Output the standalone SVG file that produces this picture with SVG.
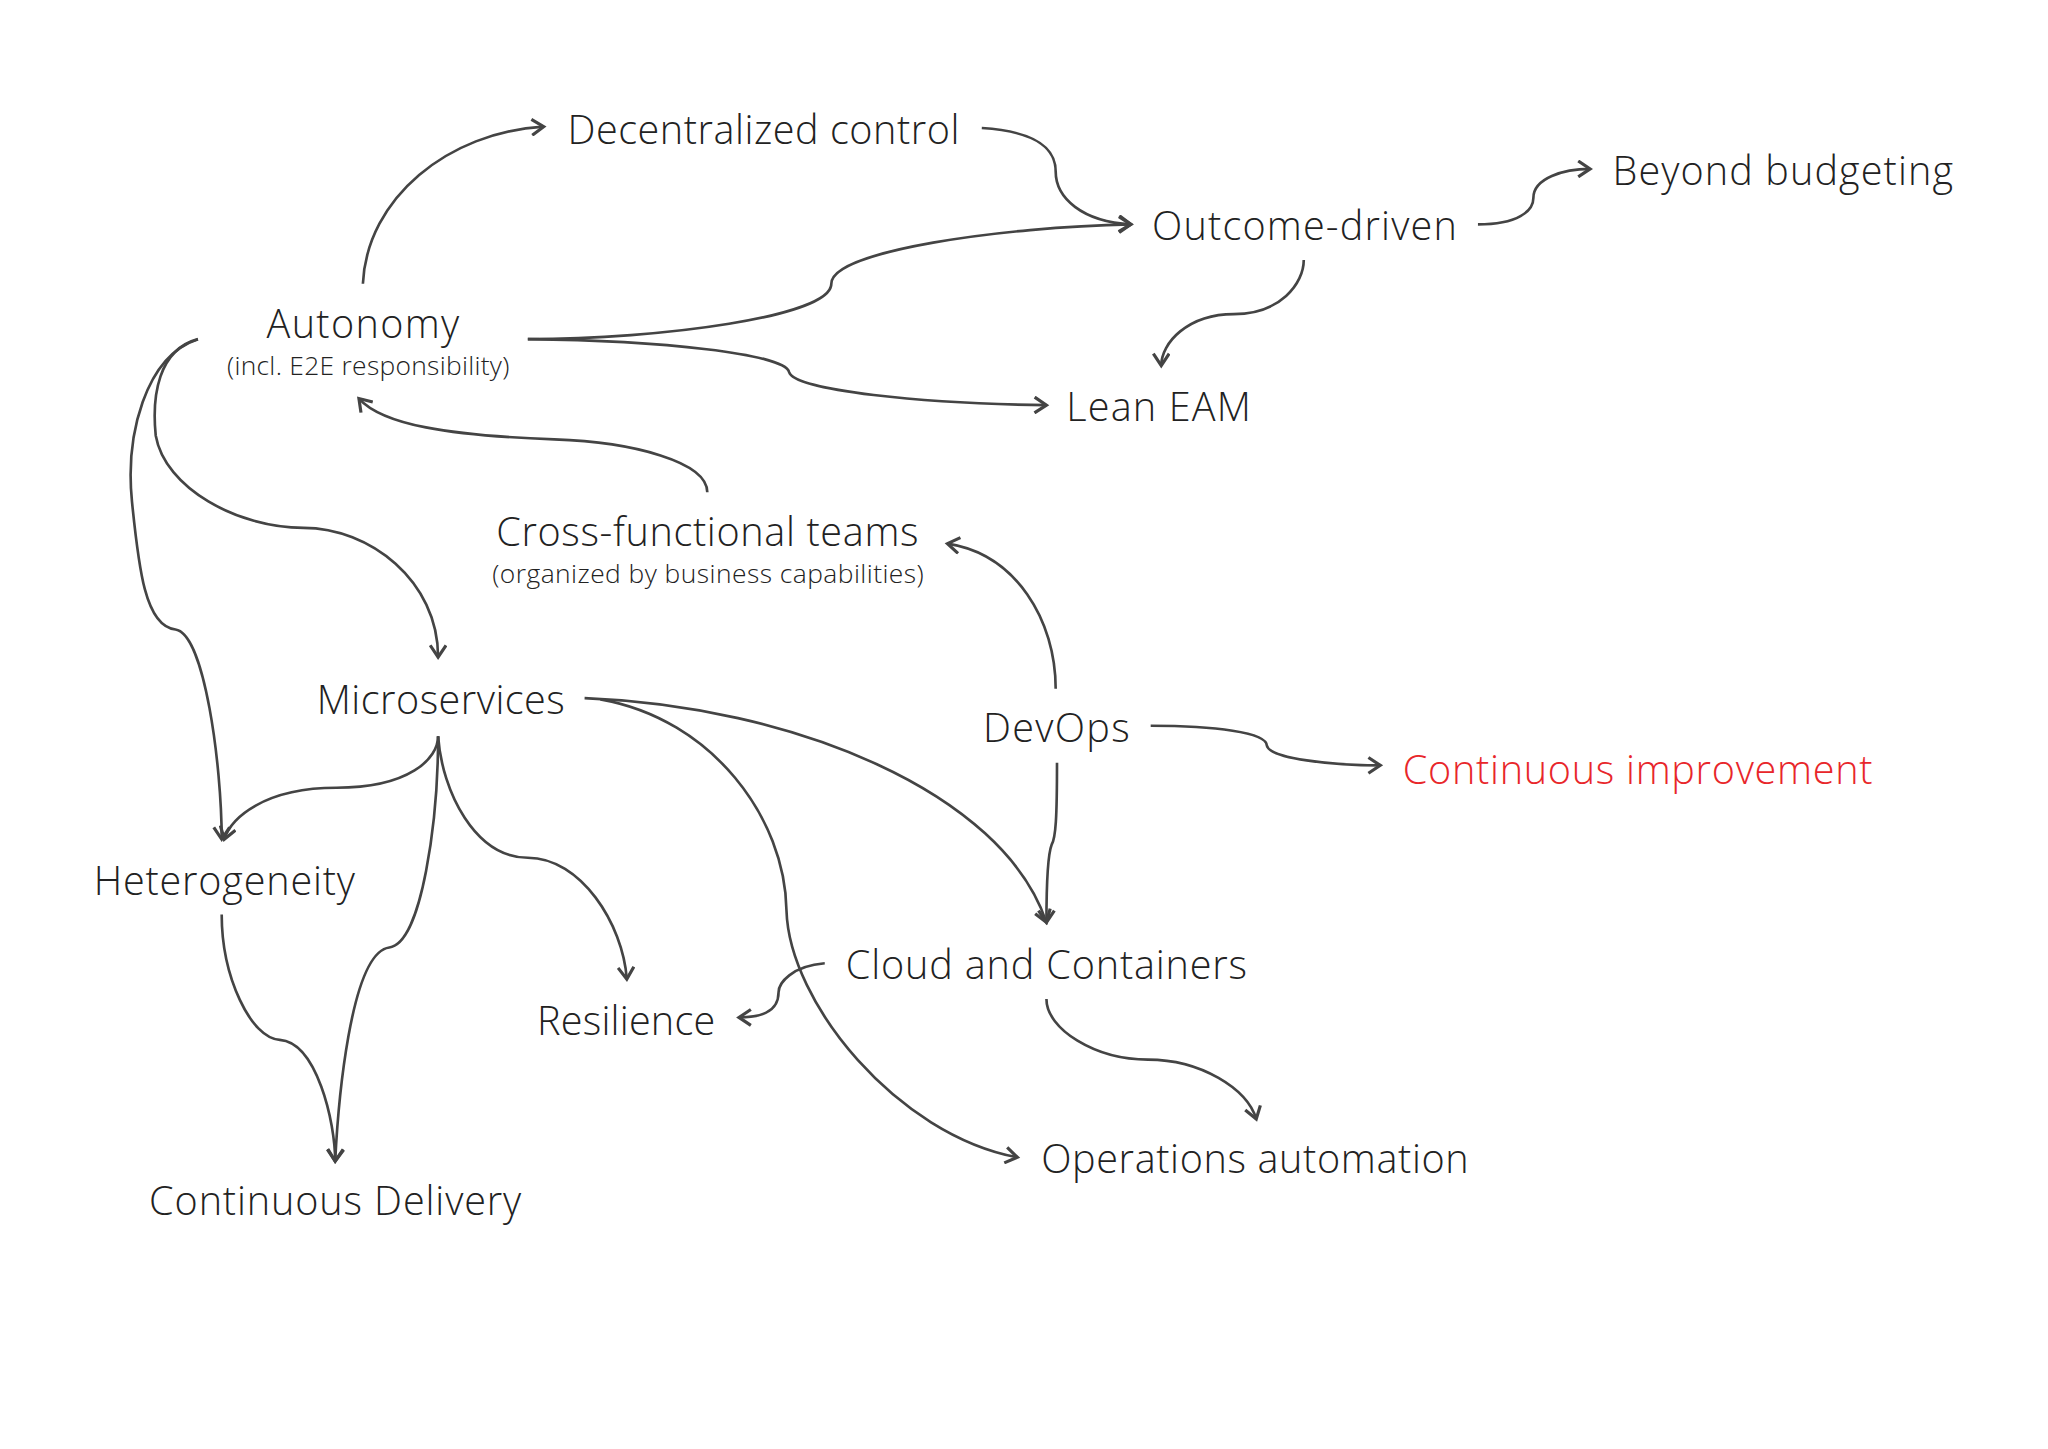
<svg xmlns="http://www.w3.org/2000/svg" width="2048" height="1449" viewBox="0 0 2048 1449">
<style>
.t{font-family:"Open Sans","Liberation Sans",sans-serif;font-weight:300;font-size:30px;fill:#222}
.s{font-size:20px}
.r{fill:#e8262a}
.c path{fill:none;stroke:#444;stroke-width:2}
</style>
<defs><marker id="a" markerWidth="14" markerHeight="14" refX="11" refY="7" orient="auto" markerUnits="userSpaceOnUse"><path d="M2,1 L11,7 L2,13" fill="none" stroke="#444" stroke-width="2.4"/></marker></defs>
<rect width="2048" height="1449" fill="#fff"/>
<g transform="scale(1.3196)">
<g class="c" marker-end="url(#a)">
<path marker-end="url(#a)" d="M275,215 C278,150 340,100 412,96"/>
<path marker-end="url(#a)" d="M744,97 C790,100 800,115 800,130 C800,150 820,168 857,170"/>
<path marker-end="url(#a)" d="M400,257 C500,257 630,240 630,215 C630,190 760,172 857,170"/>
<path marker-end="url(#a)" d="M400,257 C500,258 595,268 598,282 C602,296 700,306 793,307"/>
<path marker-end="url(#a)" d="M988,197 C988,215 970,238 935,238 C900,238 880,260 880,277"/>
<path marker-end="url(#a)" d="M1120,170 C1150,170 1162,160 1162,150 C1162,135 1185,128 1205,128"/>
<path marker-end="url(#a)" d="M536,373 C536,350 480,335 420,333 C340,330 290,322 272,302"/>
<path marker-end="url(#a)" d="M150,257 C120,265 115,300 118,330 C125,370 180,400 230,400 C280,400 332,440 332,498"/>
<path marker-end="url(#a)" d="M150,257 C110,270 95,330 100,380 C105,430 110,475 133,477 C155,480 168,580 168,636"/>
<path marker-end="url(#a)" d="M800,522 C800,470 770,420 718,412"/>
<path marker-end="url(#a)" d="M801,578 C801,620 800,635 797,640 C793,650 793,680 793,699"/>
<path marker-end="url(#a)" d="M872,550 C920,550 960,555 960,565 C962,575 1010,580 1046,580"/>
<path marker-end="url(#a)" d="M443,529 C600,535 760,600 793,699"/>
<path marker-end="url(#a)" d="M455,530 C540,545 595,620 596,690 C598,760 680,860 771,877"/>
<path marker-end="url(#a)" d="M332,558 C332,575 310,597 255,597 C200,597 175,620 170,636"/>
<path marker-end="url(#a)" d="M332,558 C335,600 360,650 400,650 C440,650 472,700 475,742"/>
<path marker-end="url(#a)" d="M332,558 C332,620 320,715 295,718 C265,722 256,840 254,880"/>
<path marker-end="url(#a)" d="M168,693 C168,740 190,787 212,788 C240,790 254,850 254,880"/>
<path marker-end="url(#a)" d="M625,730 C600,732 590,745 590,752 C590,768 575,771 560,771"/>
<path marker-end="url(#a)" d="M793,757 C793,780 830,803 870,803 C910,803 945,825 952,848"/>
</g>
<g id="decentralized"><text class="t" x="430" y="109" textLength="297">Decentralized control</text></g>
<g id="outcome"><text class="t" x="873" y="182" textLength="231">Outcome-driven</text></g>
<g id="beyond"><text class="t" x="1222" y="140" textLength="258">Beyond budgeting</text></g>
<g id="autonomy"><text class="t" x="202" y="256" textLength="146">Autonomy</text><text class="t s" x="172" y="284" textLength="214">(incl. E2E responsibility)</text></g>
<g id="lean"><text class="t" x="808" y="319" textLength="140">Lean EAM</text></g>
<g id="cross"><text class="t" x="376" y="414" textLength="320">Cross-functional teams</text><text class="t s" x="373" y="442" textLength="327">(organized by business capabilities)</text></g>
<g id="micro"><text class="t" x="240" y="541" textLength="188">Microservices</text></g>
<g id="devops"><text class="t" x="745" y="562" textLength="111">DevOps</text></g>
<g id="ci"><text class="t r" x="1063" y="594" textLength="356">Continuous improvement</text></g>
<g id="hetero"><text class="t" x="71" y="678" textLength="198">Heterogeneity</text></g>
<g id="cloud"><text class="t" x="641" y="742" textLength="304">Cloud and Containers</text></g>
<g id="resilience"><text class="t" x="407" y="784" textLength="135">Resilience</text></g>
<g id="ops"><text class="t" x="789" y="889" textLength="324">Operations automation</text></g>
<g id="cd"><text class="t" x="113" y="921" textLength="282">Continuous Delivery</text></g>
</g>
</svg>
